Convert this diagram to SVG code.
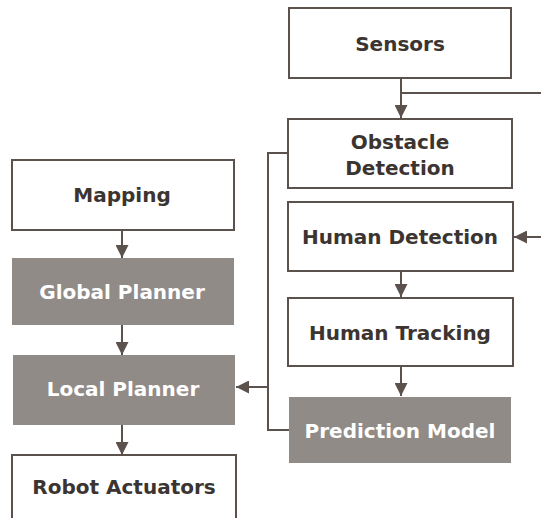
<svg xmlns="http://www.w3.org/2000/svg" width="541" height="518" viewBox="0 0 541 518">
<style>
.box{fill:#ffffff;stroke:#5b524d;stroke-width:2}
.gbox{fill:#918b87;stroke:none}
.t{font-family:"DejaVu Sans","Liberation Sans",sans-serif;font-weight:bold;font-size:20px;fill:#3b3431;text-anchor:middle}
.tw{fill:#ffffff}
.c{fill:none;stroke:#5b524d;stroke-width:2}
</style>
<defs>
<marker id="ah" viewBox="0 0 10 10" refX="10" refY="5" markerWidth="6.5" markerHeight="6.5" markerUnits="strokeWidth" orient="auto">
<path d="M0,0 L10,5 L0,10 Z" fill="#5b524d"/>
</marker>
</defs>
<rect width="541" height="518" fill="#ffffff"/>
<g id="connectors">
<path class="c" d="M401,78 V118" marker-end="url(#ah)"/>
<path class="c" d="M401,93 H541"/>
<path class="c" d="M541,237 H514" marker-end="url(#ah)"/>
<path class="c" d="M401,271 V297" marker-end="url(#ah)"/>
<path class="c" d="M401,366 V396" marker-end="url(#ah)"/>
<path class="c" d="M288,153 H268 V430 H289"/>
<path class="c" d="M268,387 H236" marker-end="url(#ah)"/>
<path class="c" d="M122,230 V258" marker-end="url(#ah)"/>
<path class="c" d="M122,325 V355" marker-end="url(#ah)"/>
<path class="c" d="M122,425 V455" marker-end="url(#ah)"/>
</g>
<g id="sensors">
<rect class="box" x="289" y="8" width="222" height="70"/>
<text class="t" x="400" y="51">Sensors</text>
</g>
<g id="obstacle-detection">
<rect class="box" x="288" y="119" width="224" height="69"/>
<text class="t" x="400" y="149">Obstacle</text>
<text class="t" x="400" y="175">Detection</text>
</g>
<g id="human-detection">
<rect class="box" x="288" y="202" width="225" height="69"/>
<text class="t" x="400" y="244">Human Detection</text>
</g>
<g id="human-tracking">
<rect class="box" x="288" y="298" width="225" height="68"/>
<text class="t" x="400" y="340">Human Tracking</text>
</g>
<g id="prediction-model">
<rect class="gbox" x="289" y="397" width="222" height="66"/>
<text class="t tw" x="400" y="438">Prediction Model</text>
</g>
<g id="mapping">
<rect class="box" x="12" y="160" width="222" height="70"/>
<text class="t" x="122" y="202">Mapping</text>
</g>
<g id="global-planner">
<rect class="gbox" x="12" y="258" width="222" height="67"/>
<text class="t tw" x="122" y="299">Global Planner</text>
</g>
<g id="local-planner">
<rect class="gbox" x="13" y="355" width="222" height="70"/>
<text class="t tw" x="123" y="396">Local Planner</text>
</g>
<g id="robot-actuators">
<rect class="box" x="12" y="455" width="224" height="70"/>
<text class="t" x="124" y="494">Robot Actuators</text>
</g>
</svg>
